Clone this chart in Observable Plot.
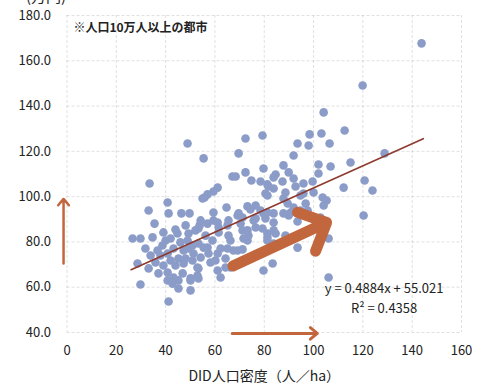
<!DOCTYPE html>
<html><head><meta charset="utf-8">
<script src="https://cdn.jsdelivr.net/npm/d3@7"></script>
<script src="https://cdn.jsdelivr.net/npm/@observablehq/plot@0.6"></script>
<style>
body{margin:0;background:#fff;}
#chart{position:relative;width:478px;height:392px;overflow:hidden;}
</style></head><body><div id="chart"></div>
<script>
// DID population density (人/ha)
const density = [143.8,119.9,104.1,48.9,72.4,79.3,55.4,69.6,33.5,67.1,68.4,72.4,74.8,79.7,91.9,93.5,87.8,61.1,59.4,55.8,57.0,64.7,40.8,41.2,33.1,46.4,49.7,73.2,74.4,98.4,103.2,112.6,98.0,106.5,102.0,106.9,115.0,128.8,84.6,89.9,91.9,102.0,78.5,81.3,87.4,95.9,99.6,92.7,112.2,120.7,123.9,80.5,83.8,88.6,94.7,95.9,100.0,103.7,105.3,89.5,91.9,96.8,90.7,94.7,104.1,102.8,120.3,76.5,79.7,83.8,75.7,93.5,87.8,97.6,83.8,89.9,84.6,88.6,106.1,93.5,83.4,106.1,35.5,39.1,44.0,44.8,49.3,53.8,52.1,34.7,26.6,29.8,31.8,36.7,38.7,40.8,43.2,46.0,48.9,49.3,51.3,53.3,28.6,33.1,35.9,39.1,42.0,45.2,47.3,50.9,52.9,37.1,40.8,43.2,46.9,50.1,52.9,29.8,42.8,45.2,50.1,41.2,54.2,57.0,59.4,61.5,65.1,69.2,70.4,73.2,76.5,80.5,87.8,91.9,81.3,83.8,73.2,69.2,65.1,61.1,57.0,54.2,48.1,61.1,66.3,79.7,40.8,45.2,50.1,81.7,83.8,81.3,55.0,78.5,59.4,69.6,71.2,76.5,81.3,65.5,61.1,53.3,61.5,65.5,71.2,73.6,79.3,81.3,83.8,55.4,57.4,62.3,66.3,67.5,71.2,71.6,60.2,64.3,53.3,53.3,62.3,81.3,42.0,47.3,37.9,44.0,50.9,56.2,59.0,48.1,33.9,40.0,64.3,72.4,58.2];
// Income (万円)
const income = [167.7,149.1,137.2,123.5,125.7,127.0,116.9,119.1,105.8,108.9,108.9,110.7,107.1,112.4,118.2,123.5,113.8,104.0,102.3,99.6,101.0,95.2,97.4,92.6,93.9,92.6,92.6,95.7,94.3,127.5,127.9,129.2,122.6,123.5,114.2,113.3,115.1,119.1,109.8,110.7,108.0,110.2,106.7,105.4,106.7,105.8,106.7,104.5,104.0,107.1,102.7,101.4,103.6,101.8,100.5,101.4,101.8,99.6,98.3,97.0,95.2,97.0,93.0,93.9,96.1,90.8,91.7,96.1,92.6,88.6,89.5,89.0,99.2,93.9,92.6,91.7,83.7,82.8,81.5,77.5,70.5,64.3,88.1,84.2,85.5,83.7,83.7,87.3,85.1,82.0,81.5,81.5,77.1,76.2,78.4,74.9,77.1,79.8,80.6,77.1,74.9,79.3,70.5,68.3,70.9,69.6,71.8,72.7,70.5,71.8,68.7,66.1,66.5,64.3,66.1,63.9,65.2,61.2,61.6,59.4,58.6,53.7,89.5,88.1,89.5,86.4,87.3,91.7,88.1,85.1,86.4,90.4,92.6,93.9,83.7,79.3,80.6,76.2,77.1,74.9,77.5,73.1,72.7,67.4,68.7,67.4,63.0,63.0,63.0,104.5,108.5,100.5,99.2,93.9,93.0,92.6,90.8,90.4,93.0,89.5,88.6,85.9,84.2,82.8,85.1,82.8,85.9,82.0,85.1,77.5,74.9,77.1,80.6,76.2,76.7,81.5,71.8,68.7,68.3,63.9,64.3,80.6,81.5,76.2,74.0,69.6,78.4,82.8,80.6,87.3,74.0,80.6,72.7,71.8,70.9];
const xTicks = [0,20,40,60,80,100,120,140,160];
const yTicks = [40,60,80,100,120,140,160,180];
const slope = 0.4884, intercept = 55.021;
const trendRange = [26, 144.5];
const equationLines = ["y = 0.4884x + 55.021", "R² = 0.4358"];
const noteText = "※人口10万人以上の都市";
const unitText = "(万円)";
const xLabelText = "DID人口密度（人／ha）";

const points = density.map((d, i) => ({x: d, y: income[i]}));
const trend = trendRange.map(x => ({x, y: slope * x + intercept}));
const arrowColor = "#c2663e";
const font = "'Noto Sans CJK JP', 'Noto Sans', sans-serif";

const chart = Plot.plot({
  width: 478, height: 392,
  marginLeft: 66.5, marginRight: 17, marginTop: 15, marginBottom: 60,
  style: {fontFamily: font, fontSize: "13px", color: "#222", background: "#fff"},
  x: {domain: [0, 160]},
  y: {domain: [40, 180]},
  marks: [
    Plot.gridX(xTicks, {stroke: "#bbb", strokeOpacity: 0.45, strokeDasharray: "3,2"}),
    Plot.gridY(yTicks, {stroke: "#bbb", strokeOpacity: 0.45, strokeDasharray: "3,2"}),
    Plot.axisX(xTicks, {tickSize: 0, tickPadding: 13, label: null, fontSize: 13}),
    Plot.axisY(yTicks, {tickSize: 0, tickPadding: 16, tickFormat: d3.format(".1f"), label: null, fontSize: 13}),
    Plot.dot(points, {x: "x", y: "y", r: 4.3, fill: "#8b9cc8", stroke: "none"}),
    Plot.line(trend, {x: "x", y: "y", stroke: "#8e3b2e", strokeWidth: 1.6}),
    // annotation arrows
    Plot.arrow([{x1: -1.4, y1: 70.5, x2: -1.4, y2: 99}], {x1: "x1", y1: "y1", x2: "x2", y2: "y2", stroke: arrowColor, strokeWidth: 2.5, headLength: 5, headAngle: 80}),
    Plot.arrow([{x1: 67, y1: 39.6, x2: 101.5, y2: 39.6}], {x1: "x1", y1: "y1", x2: "x2", y2: "y2", stroke: arrowColor, strokeWidth: 3, headLength: 4.5, headAngle: 80}),
    Plot.arrow([{x1: 67.3, y1: 69.4, x2: 105.3, y2: 88.6}], {x1: "x1", y1: "y1", x2: "x2", y2: "y2", stroke: arrowColor, strokeWidth: 11, headLength: 4.2, headAngle: 88, strokeLinejoin: "miter"}),
    Plot.text([equationLines[0]], {x: 128.6, y: 59.4, text: d => d, fontSize: 13, fill: "#222"}),
    Plot.text([equationLines[1]], {x: 128.6, y: 50.6, text: d => d, fontSize: 13, fill: "#222"}),
    Plot.text([noteText], {x: 2.6, y: 174.6, text: d => d, textAnchor: "start", fontSize: 12, fontWeight: "bold", fill: "#222"}),
    Plot.text([unitText], {x: -8.5, y: 188, text: d => d, textAnchor: "middle", fontSize: 15, fill: "#222"}),
    Plot.text([xLabelText], {frameAnchor: "bottom", dy: 48, text: d => d, fontSize: 14, fill: "#222"})
  ]
});
document.getElementById("chart").appendChild(chart);
</script>
</body></html>
